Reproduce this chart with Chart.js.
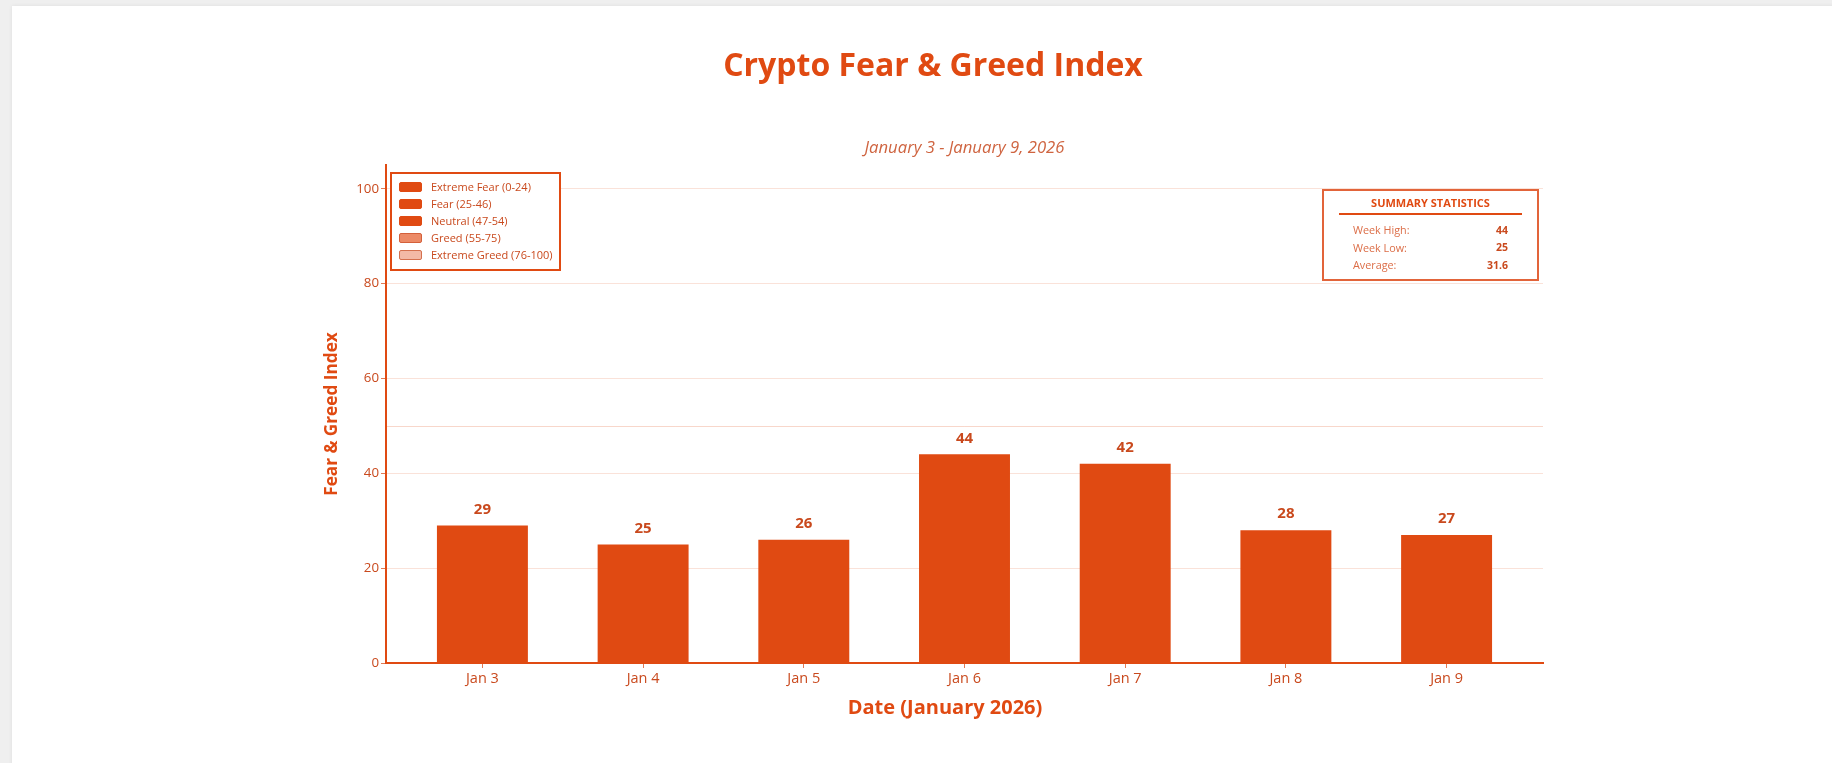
<!DOCTYPE html>
<html>
<head>
<meta charset="utf-8">
<title>Crypto Fear &amp; Greed Index</title>
<script src="https://cdn.jsdelivr.net/npm/chart.js@4.4.1/dist/chart.umd.min.js"></script>
<style>
  html, body { margin: 0; padding: 0; width: 1832px; height: 763px; overflow: hidden; background: #efefef; }
  #card { position: absolute; left: 12px; top: 6px; width: 1860px; height: 800px; background: #ffffff; box-shadow: 0 0 4px rgba(0,0,0,0.07); }
  #wrap { position: absolute; left: 0; top: 0; width: 1832px; height: 763px; }
</style>
</head>
<body>
<div id="card"></div>
<div id="wrap"><canvas id="fgChart" width="1832" height="763"></canvas></div>
<script>
// ---- data ----
const dates = ['Jan 3', 'Jan 4', 'Jan 5', 'Jan 6', 'Jan 7', 'Jan 8', 'Jan 9'];
const indexValues = [29, 25, 26, 44, 42, 28, 27];
const yTickValues = [0, 20, 40, 60, 80, 100];
const neutralMark = 50;

const zoneNames = ['Extreme Fear (0-24)', 'Fear (25-46)', 'Neutral (47-54)', 'Greed (55-75)', 'Extreme Greed (76-100)'];
const zoneFills = ['#e04a12', '#e04a12', '#e04a12', '#ec8a66', '#f3b9a6'];
const zoneEdges = ['#e04a12', '#e04a12', '#e04a12', '#d4603a', '#d4704e'];

const chartTitle = 'Crypto Fear & Greed Index';
const chartSubtitle = 'January 3 - January 9, 2026';
const xAxisTitle = 'Date (January 2026)';
const yAxisTitle = 'Fear & Greed Index';
const statsHeading = 'SUMMARY STATISTICS';
const statsLabels = ['Week High:', 'Week Low:', 'Average:'];

// ---- palette ----
const ORANGE = '#e04a12';
const TEXT = '#c9491d';
const SOFT = '#cf6440';
const FONT = "'Open Sans', 'Noto Sans', sans-serif";

const points = indexValues.map((v, i) => ({ x: i, y: v }));

const high = Math.max(...indexValues);
const low = Math.min(...indexValues);
const avg = indexValues.reduce((a, b) => a + b, 0) / indexValues.length;
const statsValues = [String(high), String(low), avg.toFixed(1)];

// headings, value labels, zone key and stats panel
const decorations = {
  id: 'decorations',
  beforeDatasetsDraw(chart) {
    const { ctx, chartArea, scales } = chart;
    const y = Math.round(scales.y.getPixelForValue(neutralMark)) + 0.5;
    ctx.save();
    ctx.strokeStyle = 'rgba(224,74,18,0.22)';
    ctx.lineWidth = 1;
    ctx.beginPath();
    ctx.moveTo(chartArea.left, y);
    ctx.lineTo(chartArea.right, y);
    ctx.stroke();
    ctx.restore();
  },
  afterDatasetsDraw(chart) {
    const { ctx } = chart;
    const meta = chart.getDatasetMeta(0);
    ctx.save();
    ctx.font = `bold 15px ${FONT}`;
    ctx.fillStyle = TEXT;
    ctx.textAlign = 'center';
    ctx.textBaseline = 'middle';
    meta.data.forEach((bar, i) => {
      ctx.fillText(String(indexValues[i]), bar.x, bar.y - 16);
    });
    ctx.restore();
  },
  afterDraw(chart) {
    const { ctx, chartArea } = chart;
    ctx.save();

    // headings
    ctx.textAlign = 'center';
    ctx.textBaseline = 'middle';
    ctx.fillStyle = ORANGE;
    ctx.font = `bold 32px ${FONT}`;
    ctx.fillText(chartTitle, 933, 67);
    ctx.fillStyle = SOFT;
    ctx.font = `italic 16.7px ${FONT}`;
    ctx.fillText(chartSubtitle, (chartArea.left + chartArea.right) / 2, 148);

    // horizontal axis heading
    ctx.fillStyle = ORANGE;
    ctx.font = `bold 20px ${FONT}`;
    ctx.fillText(xAxisTitle, 945, 708);

    // zone key
    const kx = chartArea.left + 5, ky = chartArea.top + 8;
    ctx.strokeStyle = ORANGE;
    ctx.lineWidth = 2;
    ctx.fillStyle = '#ffffff';
    ctx.fillRect(kx, ky, 169, 97);
    ctx.strokeRect(kx, ky, 169, 97);
    ctx.font = `11px ${FONT}`;
    ctx.textAlign = 'left';
    zoneNames.forEach((name, i) => {
      const cy = ky + 14 + i * 17;
      ctx.fillStyle = zoneFills[i];
      ctx.strokeStyle = zoneEdges[i];
      ctx.lineWidth = 1;
      ctx.beginPath();
      ctx.roundRect(kx + 8.5, cy - 4.5, 22, 9, 1.5);
      ctx.fill();
      ctx.stroke();
      ctx.fillStyle = TEXT;
      ctx.fillText(name, kx + 40, cy + 0.5);
    });

    // summary statistics panel
    const sx = chartArea.right - 220, sy = chartArea.top + 25, sw = 215, sh = 90;
    ctx.fillStyle = '#ffffff';
    ctx.fillRect(sx, sy, sw, sh);
    ctx.strokeStyle = '#e2643a';
    ctx.lineWidth = 2;
    ctx.strokeRect(sx, sy, sw, sh);
    ctx.textAlign = 'center';
    ctx.fillStyle = ORANGE;
    ctx.font = `bold 11px ${FONT}`;
    ctx.fillText(statsHeading, sx + sw / 2, sy + 14);
    ctx.strokeStyle = ORANGE;
    ctx.lineWidth = 2;
    ctx.beginPath();
    ctx.moveTo(sx + 16, sy + 24);
    ctx.lineTo(sx + sw - 16, sy + 24);
    ctx.stroke();
    statsLabels.forEach((lab, i) => {
      const ry = sy + 41 + i * 17.5;
      ctx.textAlign = 'left';
      ctx.fillStyle = '#dc6e48';
      ctx.font = `10.8px ${FONT}`;
      ctx.fillText(lab, sx + 30, ry);
      ctx.textAlign = 'right';
      ctx.fillStyle = TEXT;
      ctx.font = `bold 10.5px ${FONT}`;
      ctx.fillText(statsValues[i], sx + sw - 30, ry);
    });
    ctx.restore();
  }
};

new Chart(document.getElementById('fgChart'), {
  type: 'bar',
  data: {
    datasets: [{
      label: 'Fear & Greed Index',
      data: points,
      backgroundColor: ORANGE,
      borderWidth: 0,
      categoryPercentage: 1,
      barPercentage: 0.566
    }]
  },
  options: {
    responsive: false,
    animation: false,
    events: [],
    layout: { padding: { left: 310, right: 289, top: 165, bottom: 40 } },
    plugins: {
      legend: { display: false },
      title: { display: false },
      tooltip: { enabled: false }
    },
    scales: {
      x: {
        type: 'linear',
        offset: false,
        min: -0.6,
        max: dates.length - 0.4,
        afterBuildTicks(scale) { scale.ticks = dates.map((_, i) => ({ value: i })); },
        afterFit(scale) { scale.height = 60; },
        ticks: {
          autoSkip: false,
          maxRotation: 0,
          padding: 2,
          color: TEXT,
          font: { family: FONT, size: 14.5 },
          callback: (v) => dates[v]
        },
        grid: { offset: false, drawOnChartArea: false, drawTicks: true, tickLength: 5, tickColor: '#e07a55' },
        border: { display: true, color: ORANGE, width: 2 },
        title: { display: false }
      },
      y: {
        min: 0,
        max: 105,
        afterBuildTicks(scale) { scale.ticks = yTickValues.map((v) => ({ value: v })); },
        afterFit(scale) { scale.width = 76; },
        ticks: {
          padding: 2,
          color: TEXT,
          font: { family: FONT, size: 13.3 }
        },
        grid: { color: 'rgba(224,74,18,0.16)', lineWidth: 1, tickLength: 5, tickColor: '#e07a55' },
        border: { display: true, color: ORANGE, width: 2 },
        title: {
          display: true,
          text: yAxisTitle,
          color: ORANGE,
          font: { family: FONT, size: 17.2, weight: 'bold' },
          padding: { top: 12, bottom: 0 }
        }
      }
    }
  },
  plugins: [decorations]
});
</script>
</body>
</html>
